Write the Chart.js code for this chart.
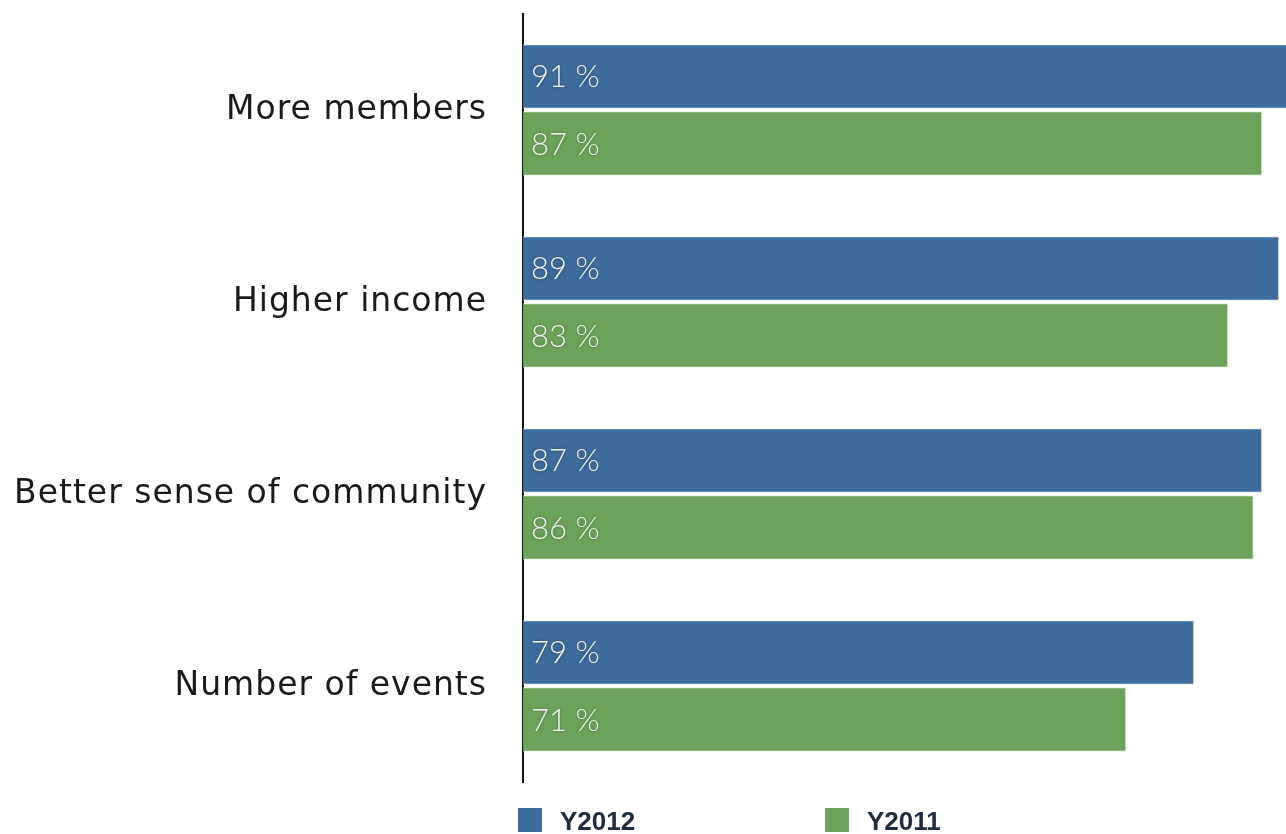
<!DOCTYPE html>
<html>
<head>
<meta charset="utf-8">
<script src="https://cdn.jsdelivr.net/npm/chart.js@4"></script>
<style>
  html, body { margin: 0; padding: 0; background: #fff; }
  #wrap { position: relative; width: 1286px; height: 834px; overflow: hidden; }
  #legend { position: absolute; top: 808px; left: 0; font-family: "Liberation Sans", Arial, sans-serif; font-size: 26px; font-weight: bold; color: #1f2b3e; }
  .item { position: absolute; top: 0; white-space: nowrap; }
  .box { position: absolute; top: 0; width: 24px; height: 24px; }
  .lbl { position: absolute; top: -1px; line-height: 28px; }
</style>
</head>
<body>
<div id="wrap">
  <canvas id="chart" width="1286" height="834"></canvas>
  <div id="legend"></div>
</div>
<script>
const categories = ['More members', 'Higher income', 'Better sense of community', 'Number of events'];
const seriesNames = ['Y2012', 'Y2011'];
const y2012 = [91, 89, 87, 79];
const y2011 = [87, 83, 86, 71];
const colors = ['#3c6b9c', '#6ba35a'];

// wider letter spacing for the category labels
const spacing = {
  id: 'spacing',
  beforeDraw(chart) { chart.ctx.letterSpacing = '1px'; },
  afterDraw(chart) { chart.ctx.letterSpacing = '0px'; }
};

// white "NN %" text inside each bar
const valueLabels = {
  id: 'valueLabels',
  afterDatasetsDraw(chart) {
    const ctx = chart.ctx;
    ctx.save();
    ctx.letterSpacing = '0px';
    ctx.font = '300 31px Lato, "Open Sans", sans-serif';
    ctx.fillStyle = '#f2f4f0';
    ctx.textBaseline = 'middle';
    ctx.textAlign = 'left';
    ctx.shadowColor = 'rgba(0,0,0,0.35)';
    ctx.shadowBlur = 3;
    chart.data.datasets.forEach((ds, i) => {
      chart.getDatasetMeta(i).data.forEach((bar, j) => {
        ctx.fillText(ds.data[j] + ' %', chart.chartArea.left + 8, bar.y + 1);
      });
    });
    ctx.restore();
  }
};

new Chart(document.getElementById('chart'), {
  type: 'bar',
  data: {
    labels: categories,
    datasets: [
      { label: seriesNames[0], data: y2012, backgroundColor: colors[0], borderColor: 'rgba(220,230,240,0.8)', borderWidth: 1, borderSkipped: 'left' },
      { label: seriesNames[1], data: y2011, backgroundColor: colors[1], borderColor: 'rgba(220,235,215,0.8)', borderWidth: 1, borderSkipped: 'left' }
    ]
  },
  options: {
    indexAxis: 'y',
    responsive: false,
    animation: false,
    categoryPercentage: 0.7,
    barPercentage: 0.96,
    layout: { padding: { top: 14, bottom: 52, right: 0, left: 0 } },
    plugins: { legend: { display: false }, tooltip: { enabled: false } },
    scales: {
      x: { display: false, min: 0, max: 89.8 },
      y: {
        grid: { display: false, drawTicks: false },
        border: { display: true, color: '#111', width: 2 },
        ticks: { color: '#1a1a1a', padding: 36, font: { family: '"DejaVu Sans", sans-serif', size: 33 } },
        afterFit(scale) {
          scale.width = 523;
          scale.paddingTop = 0;
          scale.paddingBottom = 0;
        }
      }
    }
  },
  plugins: [spacing, valueLabels]
});

// legend
const legend = document.getElementById('legend');
const legendX = [518, 825];
seriesNames.forEach((name, i) => {
  const item = document.createElement('div');
  item.className = 'item';
  item.style.left = legendX[i] + 'px';
  item.innerHTML = `<div class="box" style="background:${colors[i]}"></div><div class="lbl" style="left:42px">${name}</div>`;
  legend.appendChild(item);
});
</script>
</body>
</html>
